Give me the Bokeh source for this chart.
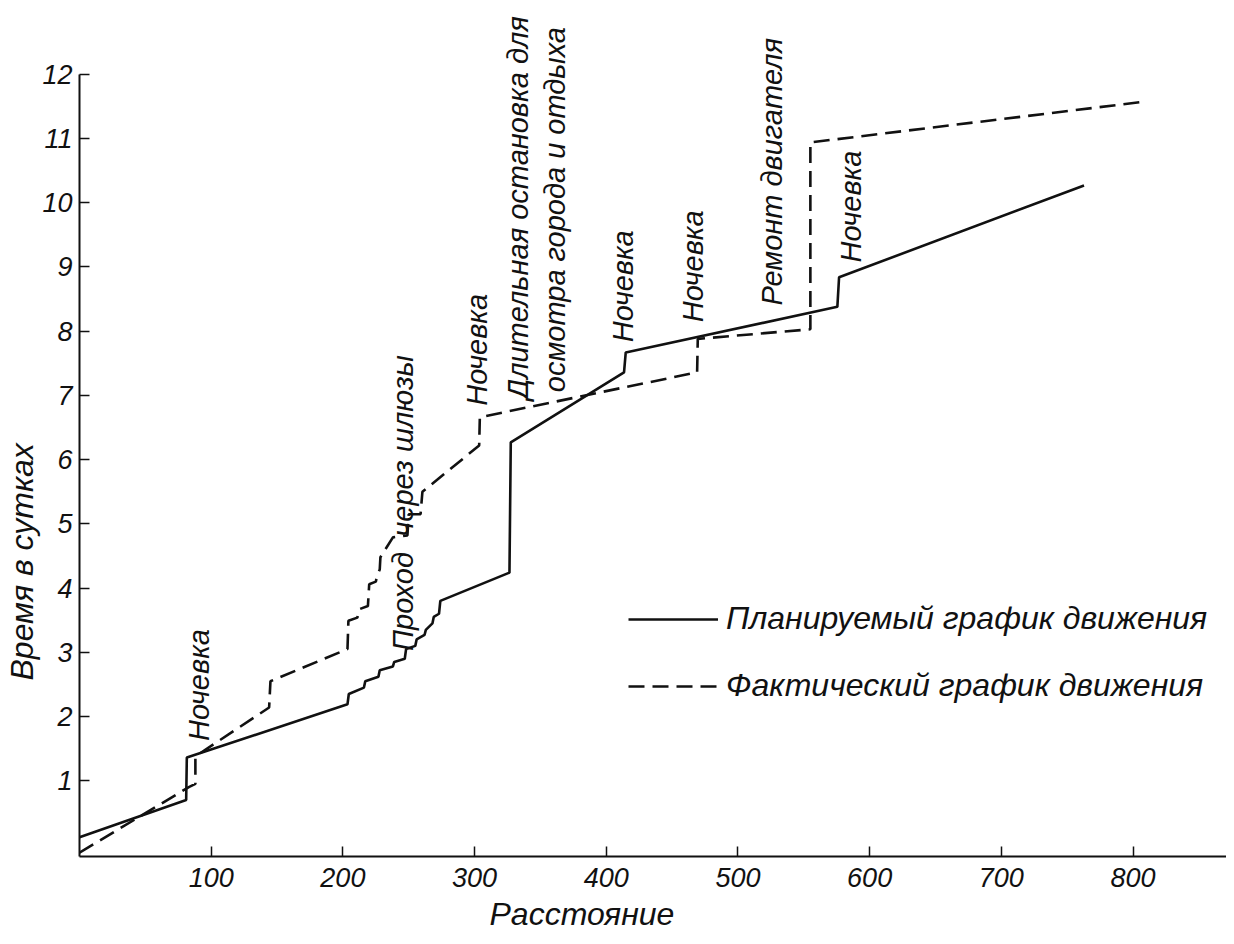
import math
from bokeh.plotting import figure
from bokeh.models import (Range1d, FixedTicker, Legend, LegendItem, Title,
                          ColumnDataSource)
from bokeh.core.properties import value
from bokeh.embed import file_html
from bokeh.resources import INLINE

# ---- data (distance, time in days) ----
plan_dist = [0, 81, 81.5, 203.5, 204.5, 216, 217, 227, 228, 238, 239, 247, 248,
             255, 256, 262, 263, 268, 269, 273, 274, 326.5, 327.5, 413.5, 414.8,
             575.5, 576.8, 762.8]
plan_time = [0.12, 0.70, 1.36, 2.19, 2.35, 2.45, 2.55, 2.62, 2.72, 2.78, 2.85,
             2.90, 3.05, 3.10, 3.20, 3.27, 3.35, 3.45, 3.55, 3.60, 3.80, 4.24,
             6.27, 7.36, 7.67, 8.38, 8.84, 10.27]

fact_dist = [0, 83, 88, 88, 144, 145, 203.5, 204.2, 211, 212.4, 219, 220, 225,
             226, 228, 228.5, 238, 249, 250, 259, 260.4, 303.5, 304, 469, 469.5,
             555, 555, 807]
fact_time = [-0.12, 0.90, 0.95, 1.38, 2.14, 2.55, 3.05, 3.49, 3.54, 3.67, 3.72,
             4.06, 4.10, 4.19, 4.29, 4.48, 4.79, 4.82, 5.15, 5.15, 5.50, 6.22,
             6.66, 7.36, 7.88, 8.03, 10.94, 11.57]

note_text = ["Ночевка", "Проход", "через шлюзы", "Ночевка",
             "Длительная остановка для", "осмотра города и отдыха",
             "Ночевка", "Ночевка", "Ремонт двигателя", "Ночевка"]
note_dist = [91, 246, 246, 302, 333, 361, 413, 466, 526, 586]
note_time = [1.62, 3.02, 4.80, 6.84, 6.94, 7.05, 7.83, 8.14, 8.40, 9.07]

x_ticks = [100, 200, 300, 400, 500, 600, 700, 800]
y_ticks = [1, 2, 3, 4, 5, 6, 7, 8, 9, 10, 11, 12]

label_plan = "Планируемый график движения"
label_fact = "Фактический график движения"
x_title = "Расстояние"
y_title = "Время в сутках"

FONT = "Liberation Sans"
INK = "#111111"

p = figure(width=1226, height=936, output_backend="svg", toolbar_location=None,
           x_range=Range1d(0, 871), y_range=Range1d(-0.18, 13.15),
           min_border_left=79, min_border_right=0, min_border_top=0,
           min_border_bottom=80)
p.title = None
p.outline_line_color = None
p.grid.visible = False
p.background_fill_color = "white"
p.border_fill_color = "white"

for ax in (p.xaxis[0], p.yaxis[0]):
    ax.axis_line_color = INK
    ax.axis_line_width = 2
    ax.major_tick_line_color = INK
    ax.major_tick_line_width = 1.5
    ax.major_tick_in = 10
    ax.major_tick_out = 0
    ax.minor_tick_line_color = None
    ax.major_label_text_font = FONT
    ax.major_label_text_font_style = "italic"
    ax.major_label_text_font_size = "27px"
    ax.major_label_text_color = INK

p.xaxis[0].ticker = FixedTicker(ticks=x_ticks)
p.yaxis[0].ticker = FixedTicker(ticks=y_ticks)
p.yaxis[0].bounds = (-0.18, 12)
p.xaxis[0].major_label_standoff = 11
p.yaxis[0].major_label_standoff = 7

r_plan = p.line(plan_dist, plan_time, line_color=INK, line_width=2.6)
r_fact = p.line(fact_dist, fact_time, line_color=INK, line_width=2.6,
                line_dash="16 8")

src = ColumnDataSource(dict(x=note_dist, y=note_time, t=note_text))
p.text(x="x", y="y", text="t", source=src, angle=math.pi / 2,
       text_align="left", text_baseline="middle",
       text_font=value(FONT), text_font_style="italic",
       text_font_size="29px", text_color=INK)

legend = Legend(items=[LegendItem(label=label_plan, renderers=[r_plan]),
                       LegendItem(label=label_fact, renderers=[r_fact])],
                location=(549, 152), glyph_width=90, glyph_height=30,
                label_height=30, spacing=30, padding=0, margin=0,
                label_standoff=8, border_line_alpha=0,
                background_fill_alpha=0,
                label_text_font=FONT, label_text_font_style="italic",
                label_text_font_size="32px", label_text_color=INK)
p.add_layout(legend)

# axis titles as side-panel titles (shifted along the axes like the original)
p.add_layout(Title(text=x_title, align="left", offset=410, standoff=8,
                   text_font=FONT, text_font_style="italic",
                   text_font_size="32px", text_color=INK), "below")
p.add_layout(Title(text=y_title, align="left", offset=176, standoff=0,
                   text_font=FONT, text_font_style="italic",
                   text_font_size="32px", text_color=INK), "left")

open("out.html", "w").write(file_html(p, INLINE))
